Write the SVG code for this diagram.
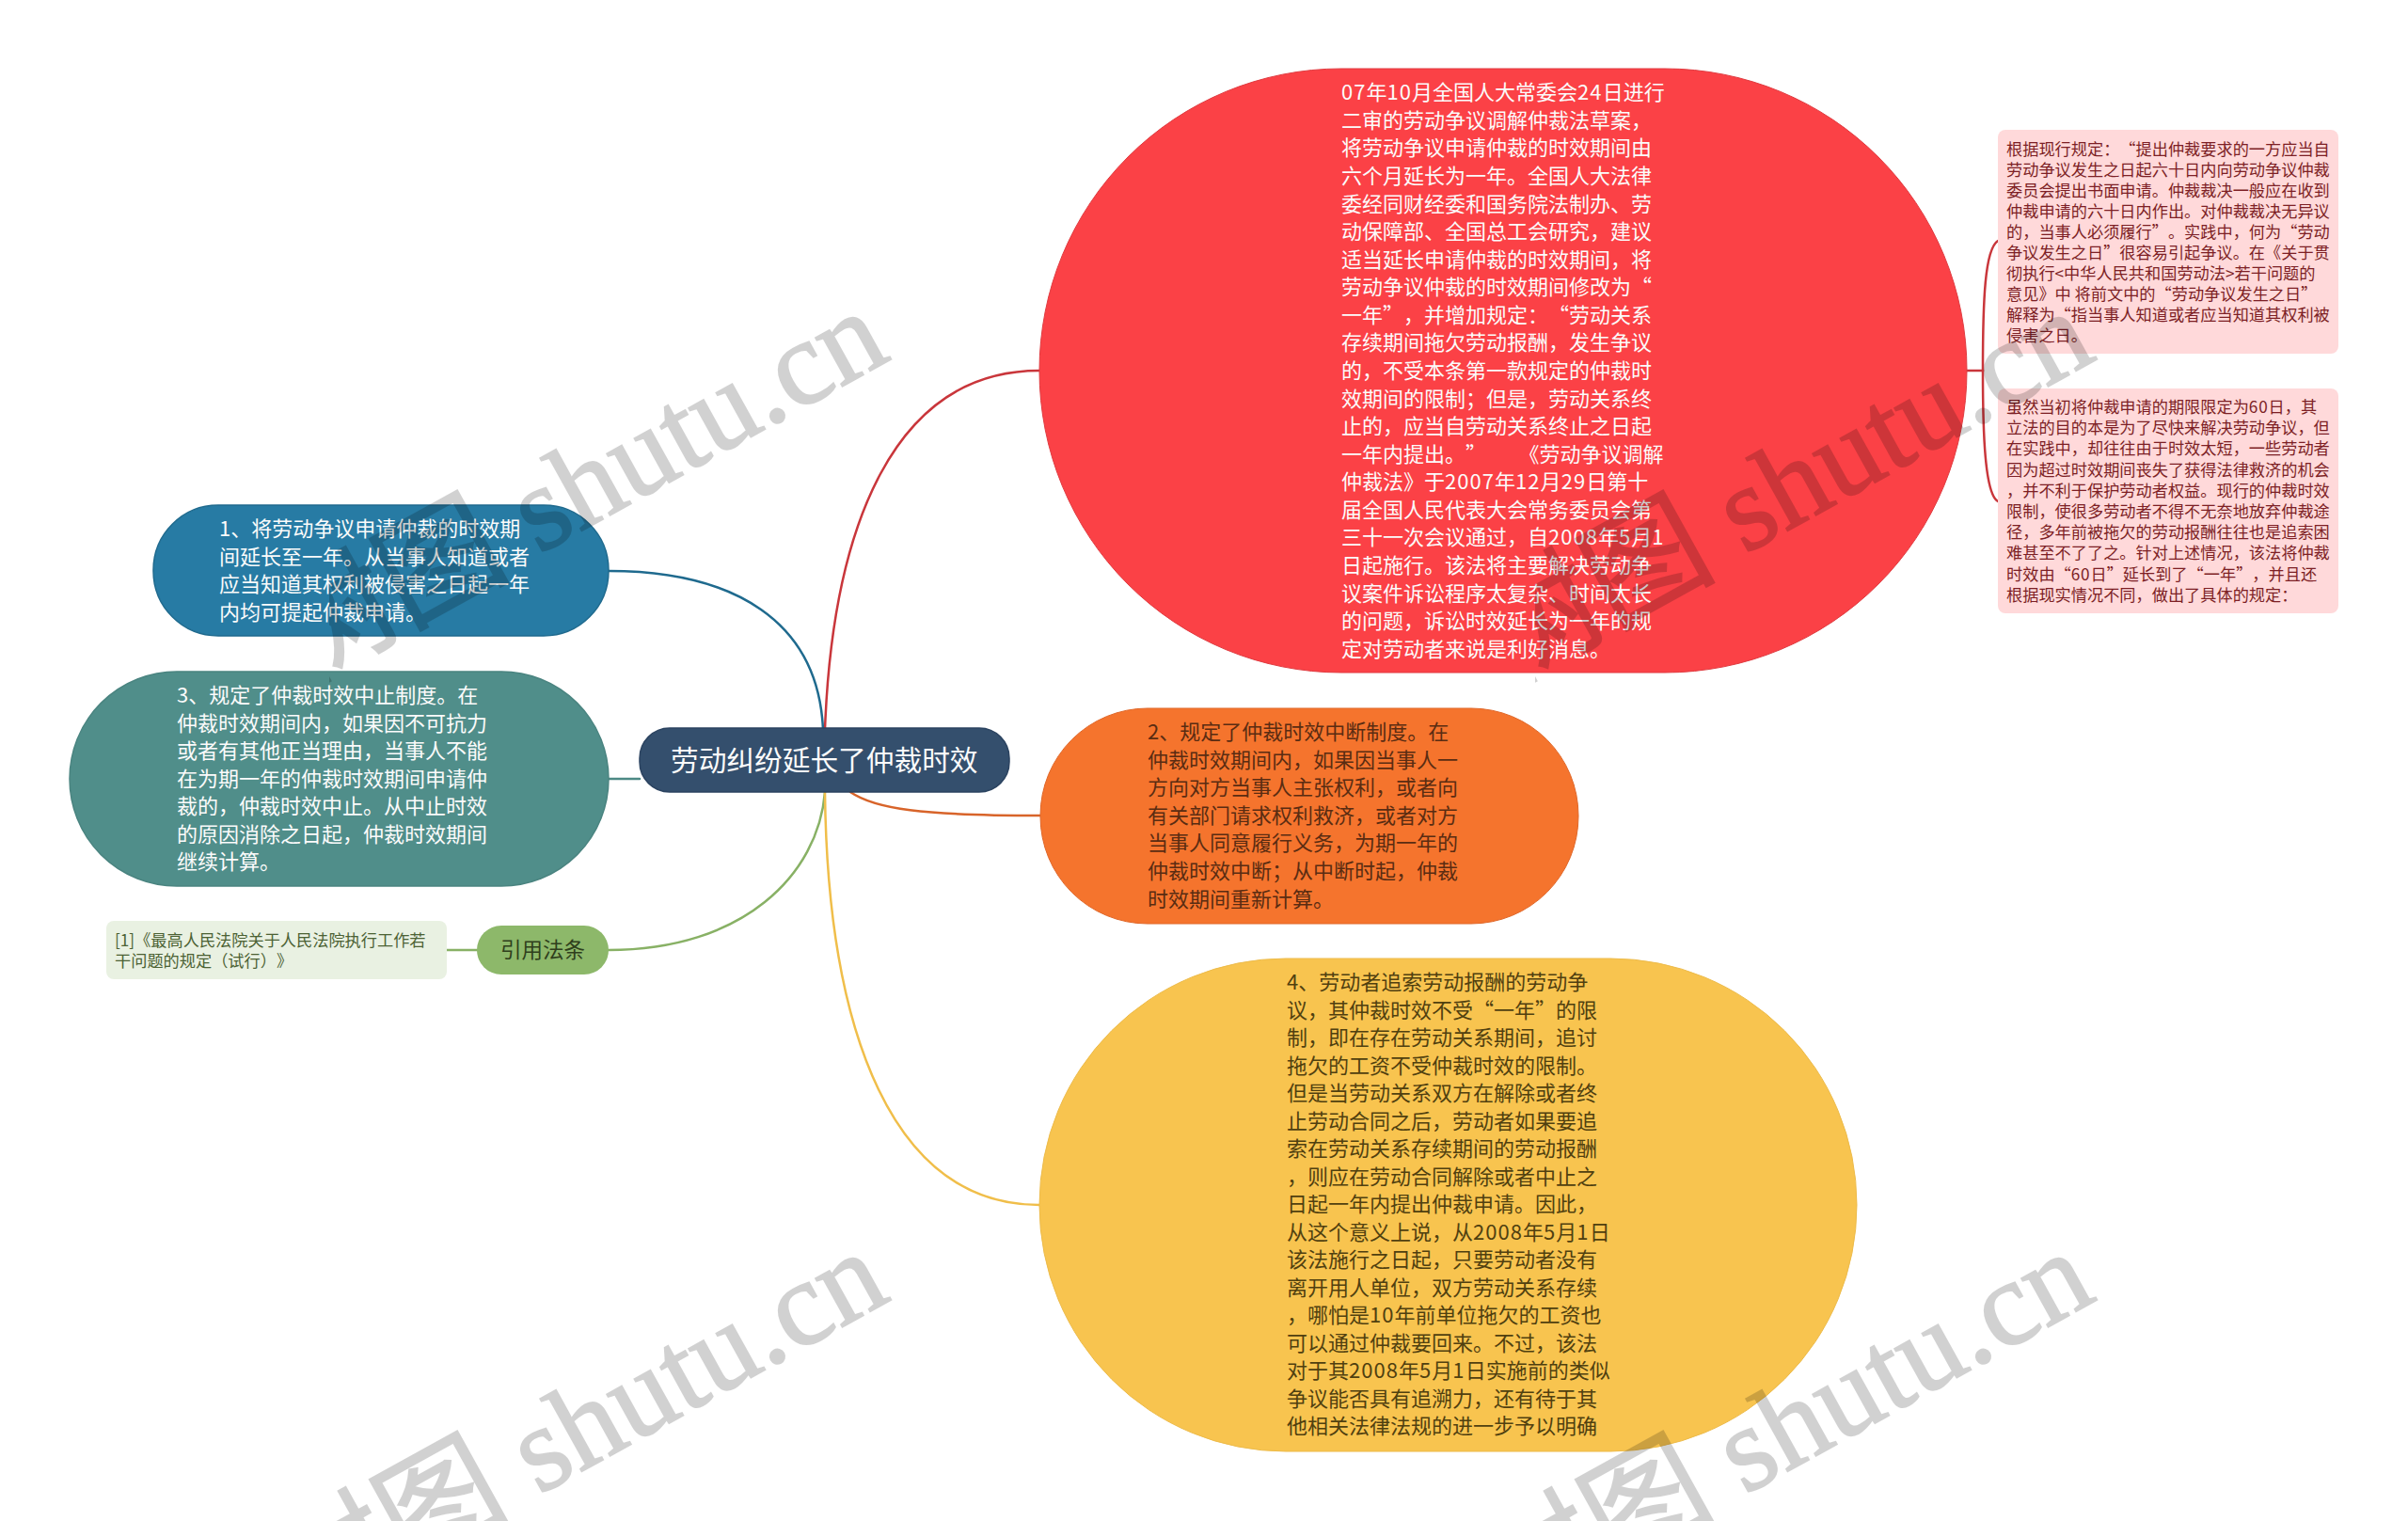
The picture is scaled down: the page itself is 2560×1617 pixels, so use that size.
<svg xmlns="http://www.w3.org/2000/svg" width="2560" height="1617" viewBox="0 0 2560 1617">
<style>
text{font-family:"Noto Sans CJK SC","Noto Sans",sans-serif;white-space:pre;text-spacing-trim:space-all;font-kerning:none}
.m{font-size:22px}
.w{fill:#fbfbfb}
.d{fill:#5a2c12}
.y{fill:#50400f}
.n{font-size:17.2px;fill:#7d1f25}
.g{letter-spacing:1.05px}
.h{letter-spacing:.8px}
.c{fill:none;stroke-width:2.5;stroke-linecap:round}
.wm{font-family:"Liberation Serif","Noto Sans CJK SC",serif;font-size:128px;fill:#000;stroke:#000;stroke-width:2;opacity:.175}
</style>
<defs>
<text id="mark" class="wm" text-anchor="end" transform="rotate(-29)"><tspan font-family="Noto Sans CJK SC">树图</tspan> shutu.cn</text>
<clipPath id="clip-left"><rect x="350" y="0" width="960" height="1617"/></clipPath>
<clipPath id="clip-right"><rect x="1632" y="0" width="928" height="1617"/></clipPath>
</defs>
<rect width="2560" height="1617" fill="#fff"/>
<g id="connectors">
<path class="c" stroke="#C9363B" d="M877 776C885 560 950 394 1105 394"/>
<path class="c" stroke="#1F6A8E" d="M647 607C780 607 870 660 875 776"/>
<path class="c" stroke="#4D8985" stroke-width="3" d="M647 828H680"/>
<path class="c" stroke="#D8642A" d="M904 842C930 860 980 867 1106 867"/>
<path class="c" stroke="#88B165" d="M877 842C870 930 790 1010 647 1010"/>
<path class="c" stroke="#F0BE4A" d="M877 842C880 1100 950 1281 1105 1281"/>
<path class="c" stroke="#88B165" d="M475 1010H507"/>
<path class="c" stroke="#C9363B" d="M2091 394H2108"/>
<path class="c" stroke="#C9363B" d="M2108 394C2108 320 2110 265 2124 256"/>
<path class="c" stroke="#C9363B" d="M2108 394C2108 460 2110 525 2124 533"/>
</g>
<g id="root">
<rect x="680" y="774" width="393" height="68" rx="32" fill="#344F6D" stroke="#2B4360" stroke-width="1.5"/>
<text x="713" y="819" font-size="29.7" class="w">劳动纠纷延长了仲裁时效</text>
</g>
<g id="node-red">
<rect x="1105" y="73" width="986" height="642" rx="321" fill="#FB4146" stroke="#E03B40" stroke-width="1"/>
<text class="m w" y="106.2"><tspan x="1426"><tspan class="g">07</tspan>年<tspan class="g">10</tspan>月全国人大常委会<tspan class="g">24</tspan>日进行</tspan><tspan x="1426" dy="29.58">二审的劳动争议调解仲裁法草案，</tspan><tspan x="1426" dy="29.58">将劳动争议申请仲裁的时效期间由</tspan><tspan x="1426" dy="29.58">六个月延长为一年。全国人大法律</tspan><tspan x="1426" dy="29.58">委经同财经委和国务院法制办、劳</tspan><tspan x="1426" dy="29.58">动保障部、全国总工会研究，建议</tspan><tspan x="1426" dy="29.58">适当延长申请仲裁的时效期间，将</tspan><tspan x="1426" dy="29.58">劳动争议仲裁的时效期间修改为“</tspan><tspan x="1426" dy="29.58">一年”，并增加规定：“劳动关系</tspan><tspan x="1426" dy="29.58">存续期间拖欠劳动报酬，发生争议</tspan><tspan x="1426" dy="29.58">的，不受本条第一款规定的仲裁时</tspan><tspan x="1426" dy="29.58">效期间的限制；但是，劳动关系终</tspan><tspan x="1426" dy="29.58">止的，应当自劳动关系终止之日起</tspan><tspan x="1426" dy="29.58">一年内提出。”       《劳动争议调解</tspan><tspan x="1426" dy="29.58">仲裁法》于<tspan class="g">2007</tspan>年<tspan class="g">12</tspan>月<tspan class="g">29</tspan>日第十</tspan><tspan x="1426" dy="29.58">届全国人民代表大会常务委员会第</tspan><tspan x="1426" dy="29.58">三十一次会议通过，自<tspan class="g">2008</tspan>年<tspan class="g">5</tspan>月<tspan class="g">1</tspan></tspan><tspan x="1426" dy="29.58">日起施行。该法将主要解决劳动争</tspan><tspan x="1426" dy="29.58">议案件诉讼程序太复杂、时间太长</tspan><tspan x="1426" dy="29.58">的问题，诉讼时效延长为一年的规</tspan><tspan x="1426" dy="29.58">定对劳动者来说是利好消息。</tspan></text>
</g>
<g id="note-red-1">
<rect x="2124" y="138" width="362" height="238" rx="8" fill="#FFD9DA"/>
<text class="n" y="165"><tspan x="2133">根据现行规定：“提出仲裁要求的一方应当自</tspan><tspan x="2133" dy="22">劳动争议发生之日起六十日内向劳动争议仲裁</tspan><tspan x="2133" dy="22">委员会提出书面申请。仲裁裁决一般应在收到</tspan><tspan x="2133" dy="22">仲裁申请的六十日内作出。对仲裁裁决无异议</tspan><tspan x="2133" dy="22">的，当事人必须履行”。实践中，何为“劳动</tspan><tspan x="2133" dy="22">争议发生之日”很容易引起争议。在《关于贯</tspan><tspan x="2133" dy="22">彻执行&lt;中华人民共和国劳动法&gt;若干问题的</tspan><tspan x="2133" dy="22">意见》中 将前文中的“劳动争议发生之日”</tspan><tspan x="2133" dy="22">解释为“指当事人知道或者应当知道其权利被</tspan><tspan x="2133" dy="22">侵害之日。</tspan></text>
</g>
<g id="note-red-2">
<rect x="2124" y="413" width="362" height="239" rx="8" fill="#FFD9DA"/>
<text class="n" y="439"><tspan x="2133">虽然当初将仲裁申请的期限限定为<tspan class="h">60</tspan>日，其</tspan><tspan x="2133" dy="22.2">立法的目的本是为了尽快来解决劳动争议，但</tspan><tspan x="2133" dy="22.2">在实践中，却往往由于时效太短，一些劳动者</tspan><tspan x="2133" dy="22.2">因为超过时效期间丧失了获得法律救济的机会</tspan><tspan x="2133" dy="22.2">，并不利于保护劳动者权益。现行的仲裁时效</tspan><tspan x="2133" dy="22.2">限制，使很多劳动者不得不无奈地放弃仲裁途</tspan><tspan x="2133" dy="22.2">径，多年前被拖欠的劳动报酬往往也是追索困</tspan><tspan x="2133" dy="22.2">难甚至不了了之。针对上述情况，该法将仲裁</tspan><tspan x="2133" dy="22.2">时效由“<tspan class="h">60</tspan>日”延长到了“一年”，并且还</tspan><tspan x="2133" dy="22.2">根据现实情况不同，做出了具体的规定：</tspan></text>
</g>
<g id="node-orange">
<rect x="1106" y="753" width="572" height="229" rx="114" fill="#F5742D" stroke="#E0682A" stroke-width="1"/>
<text class="m d" y="786"><tspan x="1220">2、规定了仲裁时效中断制度。在</tspan><tspan x="1220" dy="29.6">仲裁时效期间内，如果因当事人一</tspan><tspan x="1220" dy="29.6">方向对方当事人主张权利，或者向</tspan><tspan x="1220" dy="29.6">有关部门请求权利救济，或者对方</tspan><tspan x="1220" dy="29.6">当事人同意履行义务，为期一年的</tspan><tspan x="1220" dy="29.6">仲裁时效中断；从中断时起，仲裁</tspan><tspan x="1220" dy="29.6">时效期间重新计算。</tspan></text>
</g>
<g id="node-yellow">
<rect x="1105" y="1019" width="869" height="524" rx="262" fill="#F8C44F" stroke="#EDBB4A" stroke-width="1"/>
<text class="m y" y="1052"><tspan x="1368">4、劳动者追索劳动报酬的劳动争</tspan><tspan x="1368" dy="29.5">议，其仲裁时效不受“一年”的限</tspan><tspan x="1368" dy="29.5">制，即在存在劳动关系期间，追讨</tspan><tspan x="1368" dy="29.5">拖欠的工资不受仲裁时效的限制。</tspan><tspan x="1368" dy="29.5">但是当劳动关系双方在解除或者终</tspan><tspan x="1368" dy="29.5">止劳动合同之后，劳动者如果要追</tspan><tspan x="1368" dy="29.5">索在劳动关系存续期间的劳动报酬</tspan><tspan x="1368" dy="29.5">，则应在劳动合同解除或者中止之</tspan><tspan x="1368" dy="29.5">日起一年内提出仲裁申请。因此，</tspan><tspan x="1368" dy="29.5">从这个意义上说，从<tspan class="g">2008</tspan>年<tspan class="g">5</tspan>月<tspan class="g">1</tspan>日</tspan><tspan x="1368" dy="29.5">该法施行之日起，只要劳动者没有</tspan><tspan x="1368" dy="29.5">离开用人单位，双方劳动关系存续</tspan><tspan x="1368" dy="29.5">，哪怕是<tspan class="g">10</tspan>年前单位拖欠的工资也</tspan><tspan x="1368" dy="29.5">可以通过仲裁要回来。不过，该法</tspan><tspan x="1368" dy="29.5">对于其<tspan class="g">2008</tspan>年<tspan class="g">5</tspan>月<tspan class="g">1</tspan>日实施前的类似</tspan><tspan x="1368" dy="29.5">争议能否具有追溯力，还有待于其</tspan><tspan x="1368" dy="29.5">他相关法律法规的进一步予以明确</tspan></text>
</g>
<g id="node-blue">
<rect x="163" y="537" width="484" height="139" rx="69" fill="#277BA4" stroke="#1F6A8E" stroke-width="1.5"/>
<text class="m w" y="570"><tspan x="233">1、将劳动争议申请仲裁的时效期</tspan><tspan x="233" dy="29.5">间延长至一年。从当事人知道或者</tspan><tspan x="233" dy="29.5">应当知道其权利被侵害之日起一年</tspan><tspan x="233" dy="29.5">内均可提起仲裁申请。</tspan></text>
</g>
<g id="node-teal">
<rect x="74" y="714" width="573" height="228" rx="114" fill="#508E8A" stroke="#4A8480" stroke-width="1.5"/>
<text class="m w" y="747"><tspan x="188">3、规定了仲裁时效中止制度。在</tspan><tspan x="188" dy="29.5">仲裁时效期间内，如果因不可抗力</tspan><tspan x="188" dy="29.5">或者有其他正当理由，当事人不能</tspan><tspan x="188" dy="29.5">在为期一年的仲裁时效期间申请仲</tspan><tspan x="188" dy="29.5">裁的，仲裁时效中止。从中止时效</tspan><tspan x="188" dy="29.5">的原因消除之日起，仲裁时效期间</tspan><tspan x="188" dy="29.5">继续计算。</tspan></text>
</g>
<g id="node-cite">
<rect x="507" y="984" width="140" height="52" rx="26" fill="#8DB86A"/>
<text x="532" y="1018" font-size="22.5" fill="#2f3f1c">引用法条</text>
</g>
<g id="note-cite">
<rect x="113" y="979" width="362" height="62" rx="8" fill="#E9F1E2"/>
<text font-size="17.2" fill="#4c6234" y="1006"><tspan x="122">[1]《最高人民法院关于人民法院执行工作若</tspan><tspan x="122" dy="22.4">干问题的规定（试行）》</tspan></text>
</g>
<g id="watermarks">
<g clip-path="url(#clip-left)">
<use href="#mark" transform="translate(949 381)"/>
<use href="#mark" transform="translate(949 1381)"/>
</g>
<g clip-path="url(#clip-right)">
<use href="#mark" transform="translate(2231 381)"/>
<use href="#mark" transform="translate(2231 1381)"/>
</g>
</g>
</svg>
